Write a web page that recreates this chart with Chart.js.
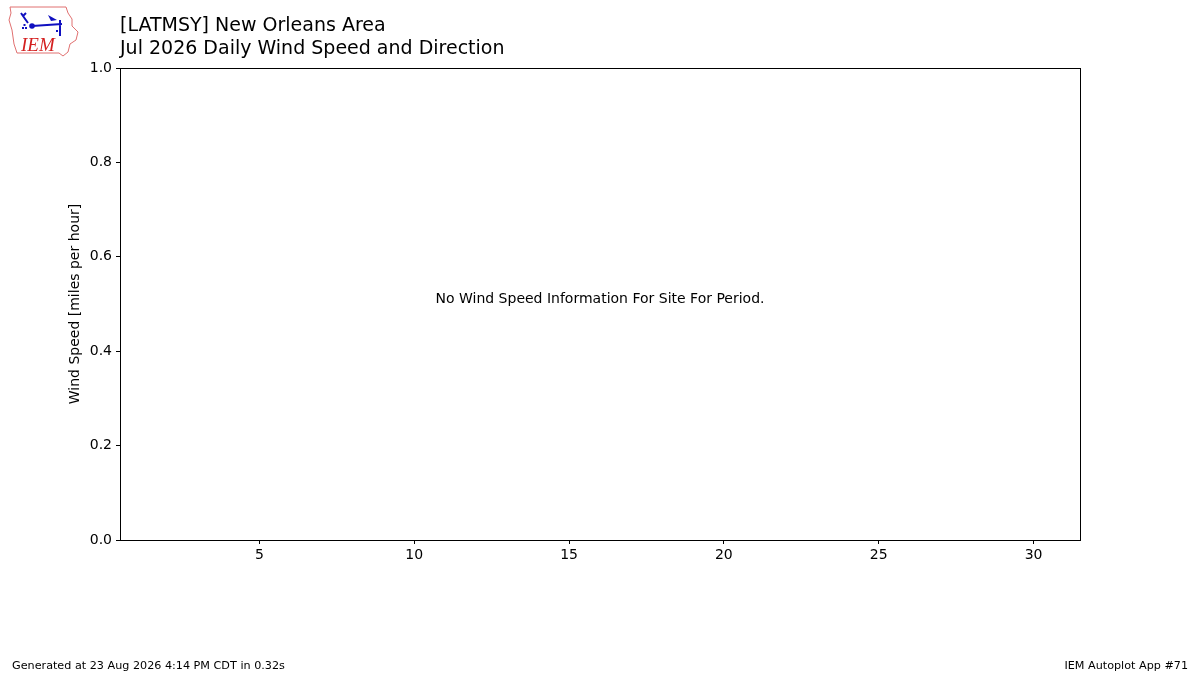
<!DOCTYPE html>
<html>
<head>
<meta charset="utf-8">
<script src="https://cdn.jsdelivr.net/npm/chart.js@4.4.1/dist/chart.umd.min.js"></script>
<style>
  html, body { margin: 0; padding: 0; background: #fff; }
  #wrap { position: relative; width: 1200px; height: 675px; }
</style>
</head>
<body>
<div id="wrap"><canvas id="myChart" width="1200" height="675"></canvas></div>
<script>
// Chart data (no observations for this period)
var days = [];
var windSpeed = [];
var xTicks = [5, 10, 15, 20, 25, 30];
var yTicks = [0, 0.2, 0.4, 0.6, 0.8, 1.0];
var titleLines = ['[LATMSY] New Orleans Area', 'Jul 2026 Daily Wind Speed and Direction'];
var yAxisTitle = 'Wind Speed [miles per hour]';
var noDataMessage = 'No Wind Speed Information For Site For Period.';
var footerLeft = 'Generated at 23 Aug 2026 4:14 PM CDT in 0.32s';
var footerRight = 'IEM Autoplot App #71';

var font = 'DejaVu Sans';

// Draw logo, titles, frame, axis title, message and footer
var decorPlugin = {
    id: 'decor',
    afterDraw: function(chart) {
        var ctx = chart.ctx;
        var area = chart.chartArea;
        ctx.save();

        // frame around the plot
        ctx.strokeStyle = '#000';
        ctx.lineWidth = 1;
        ctx.strokeRect(Math.round(area.left) + 0.5, Math.round(area.top) + 0.5,
            Math.round(area.right - area.left), Math.round(area.bottom - area.top));

        // titles
        ctx.fillStyle = '#000';
        ctx.textAlign = 'left';
        ctx.textBaseline = 'alphabetic';
        ctx.font = '19px "' + font + '"';
        ctx.fillText(titleLines[0], 120, 31);
        ctx.fillText(titleLines[1], 120, 54);

        // y axis title, rotated
        ctx.save();
        ctx.translate(75, (area.top + area.bottom) / 2);
        ctx.rotate(-Math.PI / 2);
        ctx.font = '14px "' + font + '"';
        ctx.textAlign = 'center';
        ctx.textBaseline = 'middle';
        ctx.fillText(yAxisTitle, 0, 0);
        ctx.restore();

        // message in the middle of the axes
        ctx.font = '14px "' + font + '"';
        ctx.textAlign = 'center';
        ctx.textBaseline = 'middle';
        ctx.fillText(noDataMessage, (area.left + area.right) / 2, (area.top + area.bottom) / 2 - 5);

        // footer
        ctx.font = '11.2px "' + font + '"';
        ctx.textBaseline = 'alphabetic';
        ctx.textAlign = 'left';
        ctx.fillText(footerLeft, 12, 669);
        ctx.textAlign = 'right';
        ctx.fillText(footerRight, 1188, 669);

        // IEM logo (rough state outline)
        ctx.strokeStyle = '#e07070';
        ctx.lineWidth = 1;
        ctx.beginPath();
        ctx.moveTo(10, 7);
        ctx.lineTo(66, 7);
        ctx.lineTo(68, 13);
        ctx.lineTo(72, 19);
        ctx.lineTo(72, 26);
        ctx.lineTo(78, 32);
        ctx.lineTo(76, 40);
        ctx.lineTo(70, 44);
        ctx.lineTo(68, 52);
        ctx.lineTo(63, 56);
        ctx.lineTo(59, 53);
        ctx.lineTo(17, 53);
        ctx.lineTo(14, 44);
        ctx.lineTo(12, 30);
        ctx.lineTo(9, 20);
        ctx.lineTo(11, 13);
        ctx.closePath();
        ctx.stroke();

        ctx.strokeStyle = '#1010c0';
        ctx.fillStyle = '#1010c0';
        ctx.lineWidth = 2;
        ctx.beginPath();
        ctx.moveTo(32, 26);
        ctx.lineTo(62, 24);
        ctx.moveTo(23, 16);
        ctx.lineTo(28, 23);
        ctx.moveTo(23, 16);
        ctx.lineTo(21, 13);
        ctx.moveTo(23, 16);
        ctx.lineTo(26, 13);
        ctx.moveTo(60, 20);
        ctx.lineTo(60, 36);
        ctx.stroke();
        ctx.beginPath();
        ctx.arc(32, 26, 2.8, 0, Math.PI * 2);
        ctx.fill();
        ctx.beginPath();
        ctx.moveTo(48, 15);
        ctx.lineTo(57, 20);
        ctx.lineTo(51, 21);
        ctx.closePath();
        ctx.fill();
        ctx.fillRect(22, 27, 2, 2);
        ctx.fillRect(25, 27, 2, 2);
        ctx.fillRect(23.5, 24, 2, 2);
        ctx.fillRect(56, 30, 2, 2);

        ctx.fillStyle = '#d42020';
        ctx.font = 'italic 19px "Liberation Serif"';
        ctx.textAlign = 'left';
        ctx.fillText('IEM', 21, 51);

        ctx.restore();
    }
};

var ctx = document.getElementById('myChart').getContext('2d');
var myChart = new Chart(ctx, {
    type: 'scatter',
    data: {
        datasets: [{
            label: 'Wind Speed',
            data: days.map(function(d, i) { return { x: d, y: windSpeed[i] }; }),
            backgroundColor: '#000'
        }]
    },
    options: {
        responsive: false,
        animation: false,
        layout: {
            padding: { left: 0, right: 120, top: 68, bottom: 0 }
        },
        plugins: {
            legend: { display: false },
            tooltip: { enabled: false }
        },
        scales: {
            x: {
                type: 'linear',
                min: 0.5,
                max: 31.5,
                afterBuildTicks: function(scale) {
                    scale.ticks = xTicks.map(function(v) { return { value: v }; });
                },
                afterFit: function(scale) { scale.height = 135; },
                grid: { drawOnChartArea: false, drawTicks: true, tickLength: 4, color: '#000' },
                border: { display: true, color: '#000' },
                ticks: {
                    color: '#000',
                    padding: 3,
                    maxRotation: 0,
                    autoSkip: false,
                    font: { family: font, size: 14 }
                }
            },
            y: {
                type: 'linear',
                min: 0,
                max: 1,
                afterBuildTicks: function(scale) {
                    scale.ticks = yTicks.map(function(v) { return { value: v }; });
                },
                afterFit: function(scale) { scale.width = 120; },
                grid: { drawOnChartArea: false, drawTicks: true, tickLength: 4, color: '#000' },
                border: { display: true, color: '#000' },
                ticks: {
                    color: '#000',
                    padding: 4,
                    autoSkip: false,
                    font: { family: font, size: 14 },
                    callback: function(v) { return Number(v).toFixed(1); }
                }
            }
        }
    },
    plugins: [decorPlugin]
});
</script>
</body>
</html>
